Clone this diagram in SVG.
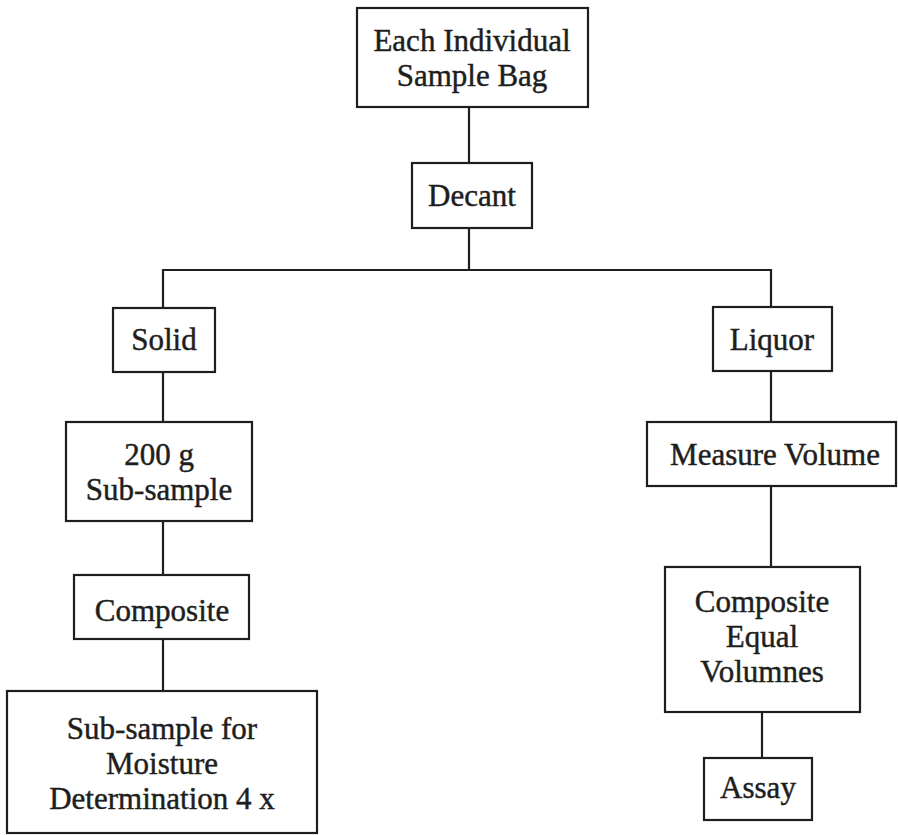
<svg xmlns="http://www.w3.org/2000/svg" width="898" height="835" viewBox="0 0 898 835">
<style>
  .box { fill: #ffffff; stroke: #1e1e1e; stroke-width: 2.2; }
  .lbl { font-family: "Liberation Serif", "Times New Roman", serif; font-size: 31px; fill: #1e1e1e; stroke: #1e1e1e; stroke-width: 0.45; text-anchor: middle; }
  .conn { fill: none; stroke: #1e1e1e; stroke-width: 2.2; }
</style>
<rect width="898" height="835" fill="#ffffff"/>
<g id="connectors">
  <line class="conn" x1="469" y1="107" x2="469" y2="163"/>
  <line class="conn" x1="469" y1="228" x2="469" y2="270"/>
  <polyline class="conn" points="163,308 163,270 771,270 771,307"/>
  <line class="conn" x1="163" y1="372" x2="163" y2="422"/>
  <line class="conn" x1="163" y1="521" x2="163" y2="575"/>
  <line class="conn" x1="163" y1="639" x2="163" y2="691"/>
  <line class="conn" x1="771" y1="371" x2="771" y2="422"/>
  <line class="conn" x1="771" y1="486" x2="771" y2="567"/>
  <line class="conn" x1="762" y1="712" x2="762" y2="758"/>
</g>
<g id="node-bag">
  <rect class="box" x="357" y="8" width="231" height="99"/>
  <text class="lbl" x="472" y="51">Each Individual</text>
  <text class="lbl" x="472" y="86">Sample Bag</text>
</g>
<g id="node-decant">
  <rect class="box" x="412" y="163" width="120" height="65"/>
  <text class="lbl" x="472" y="206">Decant</text>
</g>
<g id="node-solid">
  <rect class="box" x="113" y="308" width="102" height="64"/>
  <text class="lbl" x="164" y="350">Solid</text>
</g>
<g id="node-subsample">
  <rect class="box" x="66" y="422" width="186" height="99"/>
  <text class="lbl" x="159" y="465">200 g</text>
  <text class="lbl" x="159" y="500">Sub-sample</text>
</g>
<g id="node-composite">
  <rect class="box" x="74" y="575" width="175" height="64"/>
  <text class="lbl" x="162" y="621">Composite</text>
</g>
<g id="node-moisture">
  <rect class="box" x="7" y="691" width="310" height="142"/>
  <text class="lbl" x="162" y="739">Sub-sample for</text>
  <text class="lbl" x="162" y="774">Moisture</text>
  <text class="lbl" x="162" y="809">Determination 4 x</text>
</g>
<g id="node-liquor">
  <rect class="box" x="713" y="307" width="119" height="64"/>
  <text class="lbl" x="772" y="350">Liquor</text>
</g>
<g id="node-measure">
  <rect class="box" x="647" y="422" width="249" height="64"/>
  <text class="lbl" x="775" y="465">Measure Volume</text>
</g>
<g id="node-composite-equal">
  <rect class="box" x="665" y="567" width="195" height="145"/>
  <text class="lbl" x="762" y="612">Composite</text>
  <text class="lbl" x="762" y="647">Equal</text>
  <text class="lbl" x="762" y="682">Volumnes</text>
</g>
<g id="node-assay">
  <rect class="box" x="704" y="758" width="108" height="62"/>
  <text class="lbl" x="758" y="798">Assay</text>
</g>
</svg>
